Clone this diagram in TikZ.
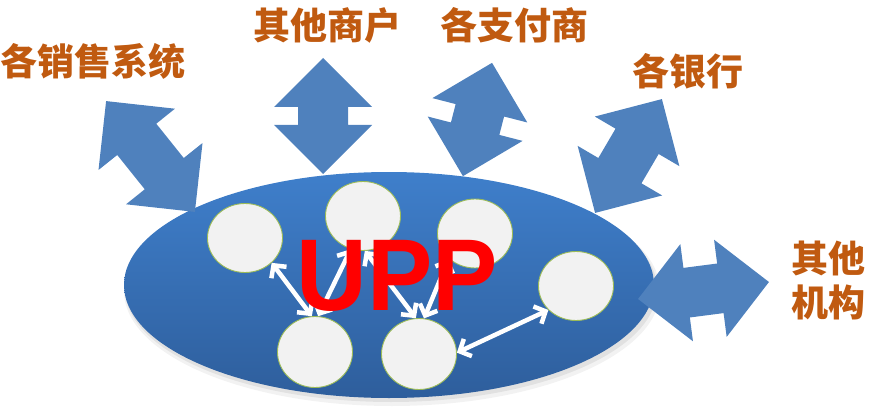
\documentclass[tikz,border=0pt]{standalone}
\usepackage{fontspec}
\setmainfont{Liberation Sans}
\newfontfamily\cjk{Noto Sans CJK SC}
\usetikzlibrary{shapes.geometric,arrows.meta}
\definecolor{blockblue}{HTML}{4F81BD}
\definecolor{lbltext}{HTML}{C05A10}
\definecolor{ovtop}{HTML}{3F7FCB}
\definecolor{ovbot}{HTML}{2E5E9C}
\definecolor{bubblefill}{HTML}{F2F2F2}
\definecolor{bubbleline}{HTML}{9BBB59}
\begin{document}
\begin{tikzpicture}[x=1pt,y=-1pt,
  lbl/.style={font=\cjk\bfseries\fontsize{37}{44}\selectfont, text=lbltext, inner sep=0pt, align=center},
  bubble/.style={ellipse, minimum width=75pt, minimum height=69pt, inner sep=0pt, fill=bubblefill, draw=bubbleline, line width=0.9pt},
  link/.style={white, line width=4.5pt, line cap=round, {Straight Barb[length=9pt,width=19pt]}-{Straight Barb[length=9pt,width=19pt]}},
  pics/dblarr/.style={code={
    \fill[blockblue] (-#1,0) -- (-#1+49,49) -- (-#1+49,25) -- (#1-49,25) -- (#1-49,49)
      -- (#1,0) -- (#1-49,-49) -- (#1-49,-25) -- (-#1+49,-25) -- (-#1+49,-49) -- cycle;}}]
\useasboundingbox (0,0) rectangle (878,417);
% shadow of the platform
\fill[black, opacity=0.05] (392,291) ellipse [x radius=268, y radius=115];
\fill[black, opacity=0.07] (391,289) ellipse [x radius=266, y radius=113];
% platform
\node[ellipse, minimum width=530pt, minimum height=226pt, inner sep=0pt, top color=ovtop, bottom color=ovbot] (platform) at (389,285) {};
% block arrows
\pic[rotate=-51.3] at (150.5,156.5) {dblarr=71};
\pic[rotate=90] at (323,116) {dblarr=58};
\pic[rotate=-104.4] at (477.5,119.5) {dblarr=58.5};
\pic[rotate=-120.4] at (628.5,156) {dblarr=66};
\pic[rotate=7.4] at (703.5,290.5) {dblarr=66};
% labels
\node[lbl] (sales) at (92.5,61) {各销售系统};
\node[lbl] (merch) at (327.5,25) {其他商户};
\node[lbl] (pay) at (514,25) {各支付商};
\node[lbl] (bank) at (688,71) {各银行};
\node[lbl] (other) at (828.5,281) {其他\\机构};
% bubbles
\node[bubble] (c1) at (245,238) {};
\node[bubble] (c2) at (363,216) {};
\node[bubble] (c3) at (475,233.5) {};
\node[bubble] (c4) at (576,286) {};
\node[bubble, minimum height=71pt] (c5) at (315,352) {};
\node[bubble, minimum height=71pt] (c6) at (419,354) {};
% links
\draw[link] (c1.-43) -- (c5.95);
\draw[link] (c5.85) -- (c2.-110);
\draw[link] (c2.-87) -- (c6.95);
\draw[link] (c3.-136) -- (c6.82);
\draw[link] (c6.2) -- (c4.-139);
% title
\node[inner sep=0pt, anchor=base, text=red, font=\bfseries\fontsize{102}{102}\selectfont] (upp) at (397,310) {\scalebox{0.96}[1]{UPP}};
\end{tikzpicture}
\end{document}
